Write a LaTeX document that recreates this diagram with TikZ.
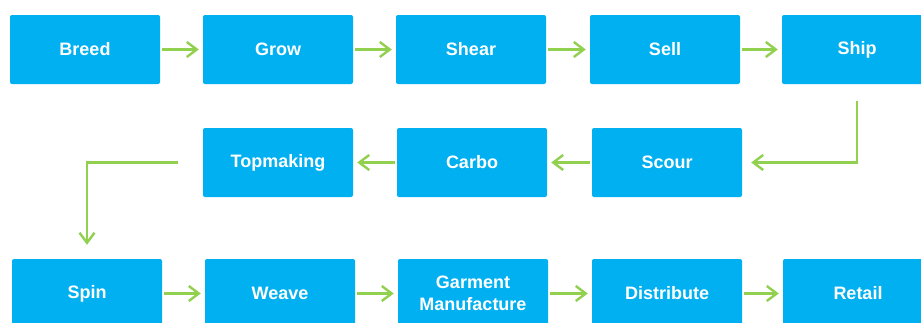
\documentclass[tikz,border=0pt]{standalone}
\usepackage{fontspec}
\setmainfont{Liberation Sans}
\usetikzlibrary{arrows.meta}
\definecolor{boxblue}{HTML}{00B0F0}
\definecolor{arrgreen}{HTML}{92D050}
\tikzset{
  stepbox/.style={fill=boxblue, draw=none, rounded corners=2pt, minimum width=150pt, minimum height=69pt, inner sep=0pt, text=white, font=\bfseries\fontsize{18}{22}\selectfont, align=center},
  flow/.style={draw=arrgreen, line width=2.4pt, -{Straight Barb[length=10pt,width=15pt,line width=2.4pt]}, shorten <=2pt, shorten >=4pt}
}
\begin{document}
\begin{tikzpicture}[x=1pt,y=-1pt]
\useasboundingbox (0,0) rectangle (921,322);
\clip (0,0) rectangle (921,322);
\node[stepbox] (breed) at (85,49.5) {Breed};
\node[stepbox] (grow) at (278,49.5) {Grow};
\node[stepbox] (shear) at (471,49.5) {Shear};
\node[stepbox] (sell) at (665,49.5) {Sell};
\node[stepbox] (ship) at (857,49.5) {Ship};
\node[stepbox] (top) at (278,162.5) {Topmaking};
\node[stepbox] (carbo) at (472,162.5) {Carbo};
\node[stepbox] (scour) at (667,162.5) {Scour};
\node[stepbox] (spin) at (87,293.5) {Spin};
\node[stepbox] (weave) at (280,293.5) {Weave};
\node[stepbox] (garment) at (473,293.5) {Garment\\Manufacture};
\node[stepbox] (distribute) at (667,293.5) {Distribute};
\node[stepbox] (retail) at (858,293.5) {Retail};
\draw[flow] (breed) -- (grow);
\draw[flow] (grow) -- (shear);
\draw[flow] (shear) -- (sell);
\draw[flow] (sell) -- (ship);
\draw[flow, shorten <=17pt, shorten >=9pt] (ship.south) |- (scour.east);
\draw[flow] (scour) -- (carbo);
\draw[flow] (carbo) -- (top);
\draw[flow, shorten <=25pt, shorten >=14pt] (top.west) -| (spin.north);
\draw[flow] (spin) -- (weave);
\draw[flow] (weave) -- (garment);
\draw[flow] (garment) -- (distribute);
\draw[flow] (distribute) -- (retail);
\end{tikzpicture}
\end{document}
